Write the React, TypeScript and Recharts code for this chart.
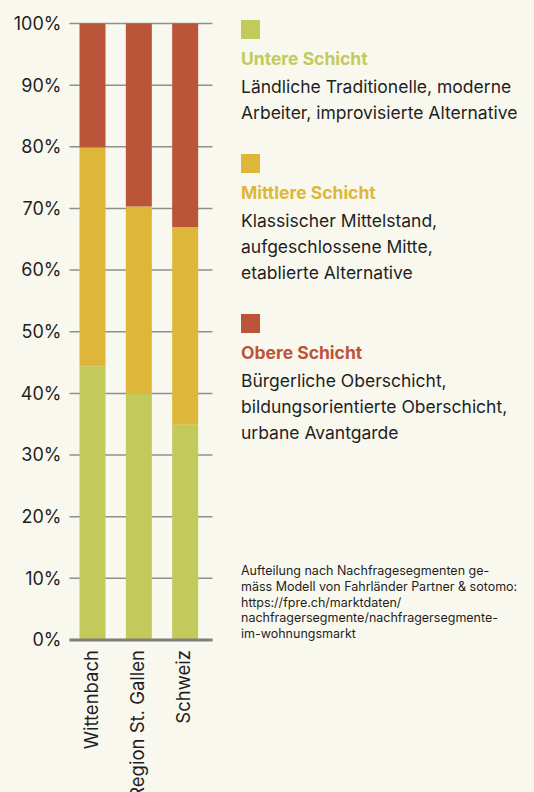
import React from 'react'
import { BarChart, Bar, XAxis, YAxis, CartesianGrid } from 'recharts'

const REGIONS = ['Wittenbach', 'Region St. Gallen', 'Schweiz']
const UNTERE = [44.4, 39.9, 34.9]
const MITTLERE = [35.5, 30.4, 32.1]
const OBERE = [20.1, 29.7, 33.0]
const Y_TICKS = [0, 10, 20, 30, 40, 50, 60, 70, 80, 90, 100]

const LEGEND_TITLES = ['Untere Schicht', 'Mittlere Schicht', 'Obere Schicht']
const LEGEND_LINES = [
  ['Ländliche Traditionelle, moderne', 'Arbeiter, improvisierte Alternative'],
  ['Klassischer Mittelstand,', 'aufgeschlossene Mitte,', 'etablierte Alternative'],
  ['Bürgerliche Oberschicht,', 'bildungsorientierte Oberschicht,', 'urbane Avantgarde'],
]
const NOTE_LINES = [
  'Aufteilung nach Nachfragesegmenten ge-',
  'mäss Modell von Fahrländer Partner & sotomo:',
  'https://fpre.ch/marktdaten/',
  'nachfragersegmente/nachfragersegmente-',
  'im-wohnungsmarkt',
]

const COLORS = ['#C2CA5B', '#DEB73A', '#BB553A']
const BG = '#F9F8EE'
const FONT = 'Inter, "Noto Sans", sans-serif'

const data = REGIONS.map((name, i) => ({
  name,
  untere: UNTERE[i],
  mittlere: MITTLERE[i],
  obere: OBERE[i],
}))

function RotatedTick({ x, y, payload }: any) {
  return (
    <g transform={`translate(${x},${y})`}>
      <text transform="rotate(-90)" textAnchor="end" x={0} y={0} dy={5}
            fontSize={18.5} fill="#1f1f1f" fontFamily={FONT}>
        {payload.value}
      </text>
    </g>
  )
}

export default function App() {
  return (
    <div style={{ position: 'absolute', left: 0, top: 0, width: 534, height: 792,
                  background: BG, fontFamily: FONT, overflow: 'hidden' }}>
      <div style={{ position: 'absolute', left: 0, top: 0 }}>
        <BarChart width={230} height={792} data={data}
                  margin={{ top: 23.5, right: 17.5, bottom: 0, left: 0 }}>
          <CartesianGrid vertical={false} stroke="#8f8f8f" strokeWidth={1.5} />
          <XAxis dataKey="name" height={152} interval={0} tickSize={0} tickMargin={10}
                 axisLine={{ stroke: '#7f7f7f', strokeWidth: 3 }} tickLine={false}
                 padding={{ left: 0, right: 4 }} tick={<RotatedTick />} />
          <YAxis domain={[0, 100]} ticks={Y_TICKS} width={69.5} tickSize={0} tickMargin={8}
                 axisLine={false} tickLine={false} tickFormatter={(v: number) => `${v}%`}
                 tick={{ fontSize: 18, fill: '#1f1f1f', fontFamily: FONT }} />
          <Bar dataKey="untere" stackId="a" fill={COLORS[0]} barSize={26} isAnimationActive={false} />
          <Bar dataKey="mittlere" stackId="a" fill={COLORS[1]} barSize={26} isAnimationActive={false} />
          <Bar dataKey="obere" stackId="a" fill={COLORS[2]} barSize={26} isAnimationActive={false} />
        </BarChart>
      </div>

      {/* legend */}
      <div style={{ position: 'absolute', left: 241, top: 20, display: 'flex',
                    flexDirection: 'column', gap: 28 }}>
        {LEGEND_TITLES.map((t, i) => (
          <div key={t}>
            <div style={{ width: 19, height: 19, background: COLORS[i] }} />
            <div style={{ marginTop: 7, fontSize: 17.5, lineHeight: '26px', fontWeight: 700,
                          color: COLORS[i], whiteSpace: 'nowrap' }}>{t}</div>
            <div style={{ marginTop: 2, fontSize: 17.5, lineHeight: '26px', color: '#1f1f1f',
                          whiteSpace: 'nowrap' }}>
              {LEGEND_LINES[i].map(l => <div key={l}>{l}</div>)}
            </div>
          </div>
        ))}
      </div>

      {/* source note */}
      <div style={{ position: 'absolute', left: 241, top: 563, fontSize: 12.5,
                    lineHeight: '15.8px', color: '#1f1f1f', whiteSpace: 'nowrap' }}>
        {NOTE_LINES.map(l => <div key={l}>{l}</div>)}
      </div>
    </div>
  )
}
